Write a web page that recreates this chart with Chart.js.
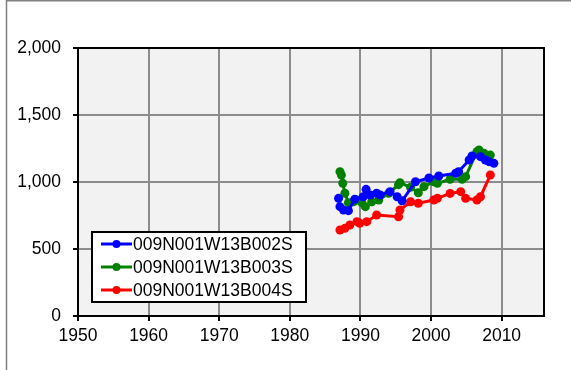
<!DOCTYPE html>
<html><head><meta charset="utf-8">
<script src="https://cdn.jsdelivr.net/npm/chart.js@4/dist/chart.umd.min.js"></script>
<style>html,body{margin:0;padding:0;background:#fff;}#wrap{width:571px;height:370px;position:relative;}</style>
</head><body><div id="wrap"><canvas id="c" width="571" height="370"></canvas></div>
<script>
const seriesNames = ["009N001W13B002S", "009N001W13B003S", "009N001W13B004S"];
const seriesColors = ["#0000ff", "#008000", "#ff0000"];

const b002Years = [1986.9,1987.1,1987.6,1988.3,1989.2,1990.4,1990.8,1991.4,1992.3,1992.8,1994.2,1995.2,1995.9,1997.8,1999.7,2001.1,2003.5,2003.9,2005.4,2005.8,2007.0,2007.7,2008.2,2008.9];
const b002Values = [878,816,791,786,871,890,945,903,916,903,928,890,860,1002,1030,1045,1065,1077,1164,1194,1189,1164,1152,1139];

const b003Years = [1987.1,1987.3,1987.5,1987.8,1988.3,1989.0,1989.5,1990.2,1990.7,1991.6,1992.6,1994.0,1995.4,1995.6,1997.1,1998.2,1999.0,2000.4,2000.9,2002.7,2004.4,2004.9,2006.5,2006.8,2007.5,2008.4];
const b003Values = [1077,1052,990,916,846,853,866,846,816,853,866,916,980,995,960,920,965,1002,990,1020,1020,1040,1226,1239,1214,1201];

const b004Years = [1987.1,1987.8,1988.5,1989.5,1989.9,1990.9,1992.3,1995.4,1995.6,1997.1,1998.2,2000.4,2000.9,2002.7,2004.2,2004.9,2006.5,2007.0,2008.4];
const b004Values = [642,654,679,704,692,704,754,741,791,853,841,866,878,915,928,878,866,890,1052];

const xTicks = [1950,1960,1970,1980,1990,2000,2010];
const yTicks = [0,500,1000,1500,2000];

function pts(xs, ys){ return xs.map((x,i)=>({x:x,y:ys[i]})); }
const allData = [pts(b002Years,b002Values), pts(b003Years,b003Values), pts(b004Years,b004Values)];

const FONT = {family:"'Liberation Sans', Arial, sans-serif", size:17.5};

const bgPlugin = {
  id:'bg',
  beforeDraw(chart){
    const {ctx, chartArea:a} = chart;
    ctx.save();
    ctx.fillStyle = '#fff'; ctx.fillRect(0,0,chart.width,chart.height);
    ctx.fillStyle = '#f2f2f2'; ctx.fillRect(a.left,a.top,a.right-a.left,a.bottom-a.top);
    ctx.strokeStyle = '#808080'; ctx.lineWidth = 1.5;
    ctx.beginPath(); ctx.moveTo(6.5,370); ctx.lineTo(6.5,0.75); ctx.lineTo(571,0.75); ctx.stroke();
    ctx.restore();
  },
  afterDatasetsDraw(chart){
    const {ctx, chartArea:a} = chart;
    ctx.save();
    ctx.strokeStyle = '#000'; ctx.lineWidth = 2;
    ctx.strokeRect(a.left, a.top, a.right-a.left, a.bottom-a.top);
    const lx = 92, ly = 232, lw = 214, lh = 70;
    ctx.fillStyle = '#fff'; ctx.fillRect(lx,ly,lw,lh);
    ctx.strokeStyle = '#000'; ctx.lineWidth = 2; ctx.strokeRect(lx,ly,lw,lh);
    ctx.font = FONT.size + 'px ' + FONT.family;
    ctx.textBaseline = 'middle'; ctx.textAlign = 'left';
    seriesNames.forEach((n,i)=>{
      const y = 244 + i*23;
      ctx.strokeStyle = seriesColors[i]; ctx.lineWidth = 3;
      ctx.beginPath(); ctx.moveTo(101,y); ctx.lineTo(132,y); ctx.stroke();
      ctx.fillStyle = seriesColors[i];
      ctx.beginPath(); ctx.arc(116.5,y,4,0,Math.PI*2); ctx.fill();
      ctx.fillStyle = '#000';
      ctx.fillText(n, 133, y+1);
    });
    ctx.restore();
  }
};

new Chart(document.getElementById('c'), {
  type:'scatter',
  data:{datasets: seriesNames.map((n,i)=>({
    label:n, data:allData[i], showLine:true,
    borderColor:seriesColors[i], backgroundColor:seriesColors[i],
    borderWidth:3, pointRadius:4.5, pointHoverRadius:4.5, pointBorderWidth:0
  }))},
  options:{
    responsive:false, animation:false, devicePixelRatio:1,
    layout:{padding:{left:0, right:27, top:48, bottom:0}},
    plugins:{legend:{display:false}, tooltip:{enabled:false}},
    scales:{
      x:{type:'linear', min:1950, max:2016,
        afterBuildTicks(s){ s.ticks = xTicks.map(v=>({value:v})); },
        afterFit(s){ s.height = 54; },
        grid:{color:'#8c8c8c', lineWidth:2, tickColor:'#000', tickLength:5, tickWidth:2, drawOnChartArea:true},
        border:{color:'#000', width:2},
        ticks:{color:'#000', font:FONT, padding:5, maxRotation:0, autoSkip:false, callback:v=>String(v)}
      },
      y:{type:'linear', min:0, max:2000,
        afterBuildTicks(s){ s.ticks = yTicks.map(v=>({value:v})); },
        afterFit(s){ s.width = 78; },
        grid:{color:'#8c8c8c', lineWidth:2, tickColor:'#000', tickLength:5, tickWidth:2},
        border:{color:'#000', width:2},
        ticks:{color:'#000', font:FONT, padding:12, callback:v=>v.toLocaleString('en-US')}
      }
    }
  },
  plugins:[bgPlugin]
});
</script></body></html>
